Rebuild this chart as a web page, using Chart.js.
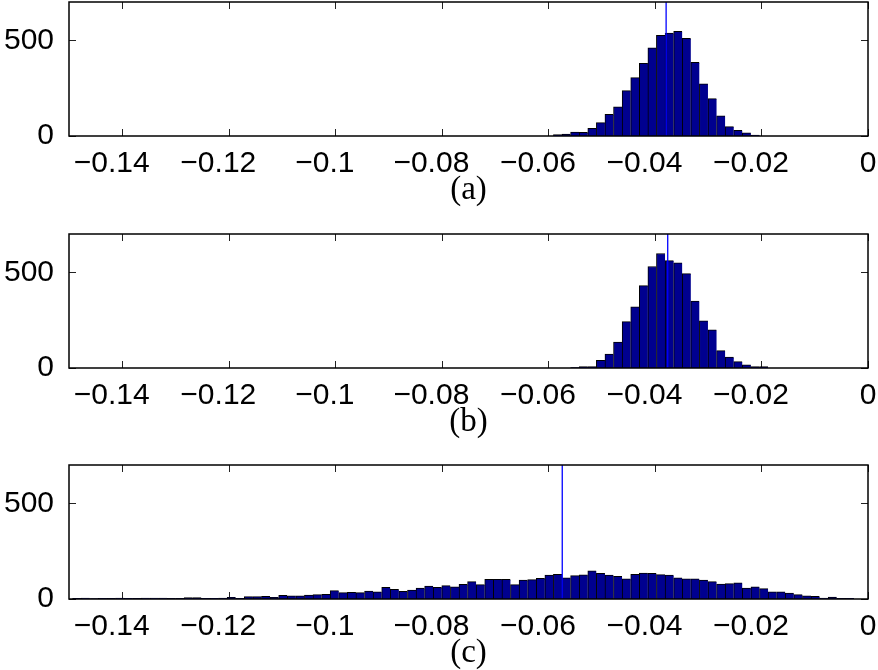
<!DOCTYPE html>
<html>
<head>
<meta charset="utf-8">
<script src="https://cdn.jsdelivr.net/npm/chart.js@4.4.1/dist/chart.umd.min.js"></script>
<style>
  html, body { margin: 0; padding: 0; background: #fff; overflow: hidden; }
  body { width: 878px; height: 670px; position: relative; }
  .panel { position: absolute; left: 0; width: 878px; height: 230px; }
</style>
</head>
<body>
<div class="panel" style="top:0px"><canvas id="chart-a" width="878" height="230"></canvas></div>
<div class="panel" style="top:232px"><canvas id="chart-b" width="878" height="230"></canvas></div>
<div class="panel" style="top:463px"><canvas id="chart-c" width="878" height="230"></canvas></div>
<script>
// histogram bin centres (shared by all three panels)
const binCenters = [
  -0.14852, -0.14691, -0.14530, -0.14369, -0.14207, -0.14046, -0.13885, -0.13724, -0.13563, -0.13401,
  -0.13240, -0.13079, -0.12918, -0.12757, -0.12595, -0.12434, -0.12273, -0.12112, -0.11951, -0.11789,
  -0.11628, -0.11467, -0.11306, -0.11145, -0.10983, -0.10822, -0.10661, -0.10500, -0.10339, -0.10177,
  -0.10016, -0.09855, -0.09694, -0.09533, -0.09371, -0.09210, -0.09049, -0.08888, -0.08727, -0.08565,
  -0.08404, -0.08243, -0.08082, -0.07921, -0.07759, -0.07598, -0.07437, -0.07276, -0.07115, -0.06953,
  -0.06792, -0.06631, -0.06470, -0.06309, -0.06147, -0.05986,
  -0.05825, -0.05664, -0.05503, -0.05341, -0.05180, -0.05019, -0.04858, -0.04697, -0.04535, -0.04374,
  -0.04213, -0.04052, -0.03891, -0.03729, -0.03568, -0.03407, -0.03246, -0.03085, -0.02923, -0.02762,
  -0.02601, -0.02440, -0.02279, -0.02117, -0.01956, -0.01795, -0.01634, -0.01473, -0.01311, -0.01150,
  -0.00989, -0.00828, -0.00667, -0.00505, -0.00344
];

const countsA = [
  0, 0, 0, 0, 0, 0, 0, 0, 0, 0,
  0, 0, 0, 0, 0, 0, 0, 0, 0, 0,
  0, 0, 0, 0, 0, 0, 0, 0, 0, 0,
  0, 0, 0, 0, 0, 0, 0, 0, 0, 0,
  0, 0, 0, 0, 0, 0, 0, 0, 0, 0,
  0, 0, 0, 0, 0, 0,
  7, 10, 21, 19, 40, 70, 113, 153, 237, 305,
  380, 460, 526, 537, 547, 510, 385, 273, 195, 106,
  49, 30, 16, 5, 0, 0, 0, 0, 0, 0,
  0, 0, 0, 0, 0
];

const countsB = [
  0, 0, 0, 0, 0, 0, 0, 0, 0, 0,
  0, 0, 0, 0, 0, 0, 0, 0, 0, 0,
  0, 0, 0, 0, 0, 0, 0, 0, 0, 0,
  0, 0, 0, 0, 0, 0, 0, 0, 0, 0,
  0, 0, 0, 0, 0, 0, 0, 0, 0, 0,
  0, 0, 0, 0, 0, 0,
  0, 0, 2, 7, 7, 40, 73, 136, 242, 319,
  430, 530, 598, 561, 549, 493, 350, 247, 200, 91,
  57, 33, 16, 7, 7, 0, 0, 0, 0, 0,
  0, 0, 0, 0, 0
];

const countsC = [
  3, 5, 2, 3, 3, 5, 4, 3, 5, 5,
  5, 3, 3, 7, 7, 4, 4, 5, 9, 4,
  12, 12, 14, 9, 19, 17, 17, 21, 23, 24,
  44, 33, 35, 33, 42, 38, 61, 51, 40, 47,
  57, 68, 61, 70, 63, 77, 91, 75, 103, 103,
  103, 75, 99, 101, 108, 125,
  129, 110, 122, 126, 147, 134, 125, 118, 105, 129,
  136, 134, 127, 125, 111, 106, 105, 99, 91, 78,
  80, 84, 57, 64, 54, 37, 37, 31, 23, 17,
  14, 5, 10, 3, 3
];

// vertical marker per panel
const meanA = -0.0379;
const meanB = -0.0376;
const meanC = -0.0574;

const xTicks = [-0.14, -0.12, -0.1, -0.08, -0.06, -0.04, -0.02, 0];
const yTicks = [0, 500];

function fmtX(v) {
  if (v === 0) return '0';
  // pad right so the number (not the minus) sits under the tick
  return '\u2212' + Math.abs(v) + '\u2002\u2009';
}

// box, inward ticks and the marker line
const framePlugin = {
  id: 'frame',
  beforeDatasetsDraw(chart) {
    const { ctx, chartArea: a, scales: { x, y } } = chart;
    ctx.save();
    ctx.strokeStyle = '#222';
    ctx.lineWidth = 1;
    ctx.beginPath();
    xTicks.forEach(v => {
      const px = Math.round(x.getPixelForValue(v)) + 0.5;
      ctx.moveTo(px, a.bottom); ctx.lineTo(px, a.bottom - 7);
      ctx.moveTo(px, a.top); ctx.lineTo(px, a.top + 7);
    });
    yTicks.forEach(v => {
      const py = Math.round(y.getPixelForValue(v)) + 0.5;
      ctx.moveTo(a.left, py); ctx.lineTo(a.left + 7, py);
      ctx.moveTo(a.right, py); ctx.lineTo(a.right - 7, py);
    });
    ctx.stroke();
    ctx.restore();
  },
  afterDatasetsDraw(chart, args, opts) {
    const { ctx, chartArea: a, scales: { x } } = chart;
    ctx.save();
    const mx = x.getPixelForValue(opts.mean);
    ctx.strokeStyle = '#0000ff';
    ctx.lineWidth = 1.3;
    ctx.beginPath();
    ctx.moveTo(mx, a.top);
    ctx.lineTo(mx, a.bottom);
    ctx.stroke();
    ctx.strokeStyle = '#000';
    ctx.lineWidth = 1.5;
    ctx.strokeRect(a.left, a.top, a.right - a.left, a.bottom - a.top);
    ctx.restore();
  }
};

function makeHist(id, counts, mean, label) {
  const points = binCenters
    .map((c, i) => ({ x: c, y: counts[i] }))
    .filter(p => p.y > 0);
  return new Chart(document.getElementById(id), {
    type: 'bar',
    data: {
      datasets: [{
        data: points,
        backgroundColor: '#00008f',
        borderColor: '#000',
        borderWidth: { top: 1, left: 1, right: 0, bottom: 0 },
        borderSkipped: false,
        barPercentage: 1,
        categoryPercentage: 1
      }]
    },
    options: {
      responsive: false,
      animation: false,
      events: [],
      layout: { padding: { top: 2, right: 10, bottom: 0, left: 0 } },
      plugins: {
        legend: { display: false },
        tooltip: { enabled: false },
        frame: { mean: mean }
      },
      scales: {
        x: {
          type: 'linear',
          min: -0.15,
          max: 0,
          offset: false,
          grid: { display: false, offset: false },
          border: { display: false },
          afterBuildTicks: s => { s.ticks = xTicks.map(v => ({ value: v })); },
          afterFit: s => { s.height = 94; s.paddingLeft = 0; s.paddingRight = 0; },
          ticks: {
            autoSkip: false,
            maxRotation: 0,
            minRotation: 0,
            padding: 2,
            color: '#000',
            font: { family: 'Liberation Sans', size: 30 },
            callback: v => fmtX(v)
          },
          title: {
            display: true,
            text: label,
            color: '#000',
            font: { family: 'Liberation Serif', size: 33 },
            padding: { top: 0, bottom: 20 }
          }
        },
        y: {
          min: 0,
          max: 700,
          grid: { display: false },
          border: { display: false },
          afterBuildTicks: s => { s.ticks = yTicks.map(v => ({ value: v })); },
          afterFit: s => { s.width = 69; s.paddingTop = 0; s.paddingBottom = 0; },
          ticks: {
            padding: 7,
            color: '#000',
            font: { family: 'Liberation Sans', size: 30 },
            callback: v => String(v)
          }
        }
      }
    },
    plugins: [framePlugin]
  });
}

makeHist('chart-a', countsA, meanA, '(a)');
makeHist('chart-b', countsB, meanB, '(b)');
makeHist('chart-c', countsC, meanC, '(c)');
</script>
</body>
</html>
